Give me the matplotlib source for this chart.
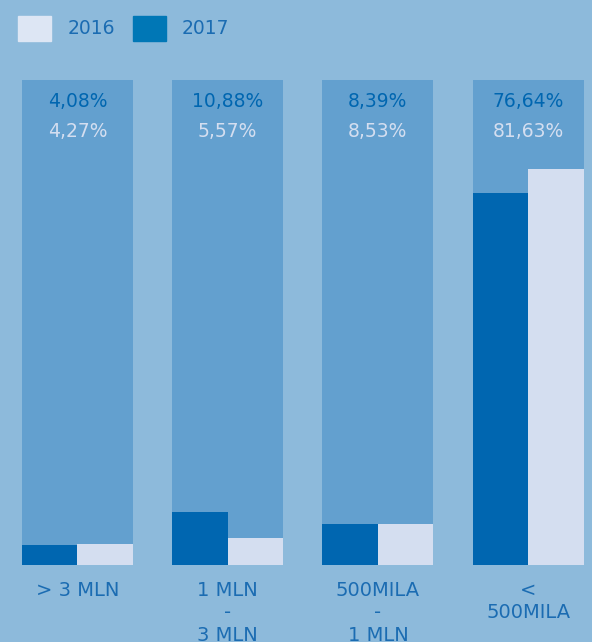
import numpy as np
import matplotlib.pyplot as plt
from matplotlib.patches import Rectangle

# data
categories = ['> 3 MLN', '1 MLN\n-\n3 MLN', '500MILA\n-\n1 MLN', '<\n500MILA']
values_2017 = [4.08, 10.88, 8.39, 76.64]
values_2016 = [4.27, 5.57, 8.53, 81.63]
labels_2017 = ['4,08%', '10,88%', '8,39%', '76,64%']
labels_2016 = ['4,27%', '5,57%', '8,53%', '81,63%']

bg = '#8dbadb'
panel = '#63a0cf'
dark = '#0066b0'
light = '#d4def0'
txt = '#1b6cb2'

W, H = 592, 642
fig = plt.figure(figsize=(W / 100, H / 100), dpi=100, facecolor=bg)

# axes spanning whole width, bottom of bars at y=565px, 100% at y=80px
ax = fig.add_axes([0, 1 - 565 / H, 1, 485 / H])
ax.set_facecolor(bg)
px = 150.2
x0 = 77.5
ax.set_xlim(-x0 / px, (W - x0) / px)
ax.set_ylim(0, 100)
ax.axis('off')

x = np.arange(len(categories))
pw = 111 / px
bw = pw / 2

ax.bar(x, 100, width=pw, color=panel, zorder=1)
ax.bar(x - bw / 2, values_2017, width=bw, color=dark, zorder=2)
ax.bar(x + bw / 2, values_2016, width=bw, color=light, zorder=2)

for i in range(len(x)):
    ax.text(x[i], 95.5, labels_2017[i], ha='center', va='center',
            fontsize=13.5, color=dark, zorder=3)
    ax.text(x[i], 89.3, labels_2016[i], ha='center', va='center',
            fontsize=13.5, color=light, zorder=3)
    ax.text(x[i], -3.2, categories[i], ha='center', va='top', fontsize=14,
            color=txt, linespacing=1.25, clip_on=False)

# legend
fig.patches.append(Rectangle((18 / W, 1 - 41 / H), 33 / W, 25 / H,
                             transform=fig.transFigure, color='#dde6f4'))
fig.patches.append(Rectangle((133 / W, 1 - 41 / H), 33 / W, 25 / H,
                             transform=fig.transFigure, color='#0077b6'))
fig.text(68 / W, 1 - 28 / H, '2016', fontsize=13.5, color=txt, va='center', weight='medium')
fig.text(182 / W, 1 - 28 / H, '2017', fontsize=13.5, color=txt, va='center', weight='medium')

fig.savefig('out.png', dpi=100, facecolor=bg)
